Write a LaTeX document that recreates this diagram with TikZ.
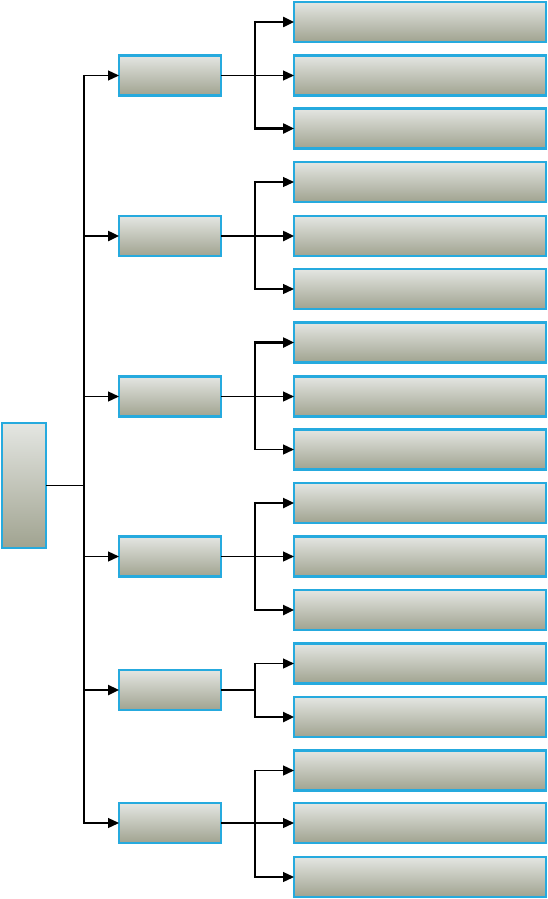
\documentclass[tikz,border=0pt]{standalone}
\usetikzlibrary{arrows.meta}
\definecolor{bord}{RGB}{38,170,222}
\definecolor{gtop}{RGB}{228,230,226}
\definecolor{gbot}{RGB}{160,163,144}
\begin{document}
\begin{tikzpicture}[x=1pt,y=-1pt,
  box/.style={draw=bord,line width=2.2pt,top color=gtop,bottom color=gbot,inner sep=0pt,outer sep=0pt},
  leafbox/.style={box,minimum width=252pt,minimum height=40pt},
  midbox/.style={box,minimum width=102pt,minimum height=40pt},
  thinln/.style={line width=1.3pt},
  thickln/.style={line width=2.4pt},
  vline/.style={line width=2.4pt},
  arr/.style={-{Triangle[length=11pt,width=10pt]}},
]
\useasboundingbox (0,0) rectangle (548,899);
% root
\node[box,minimum width=44pt,minimum height=125pt] (root) at (24,485.5) {};
% mids
\foreach \n/\y in {1/75.5,2/236,3/396.5,4/556.5,5/690,6/823}
  \node[midbox] (m\n) at (170,\y) {};
% leaves
\foreach \n/\y in {1/22,2/75.5,3/128.5,4/182,5/236,6/289,7/342.5,8/396.5,9/449.5,10/503,11/556.5,12/610,13/663.5,14/717,15/770.5,16/823,17/877}
  \node[leafbox] (l\n) at (420,\y) {};
% trunk
\coordinate (tj) at (84,485.5);
\coordinate (tt) at (84,75.5);
\coordinate (tb) at (84,823);
\draw[thinln] (root.east) -- (tj);
\draw[thinln] ([yshift=0.65pt]tt) -- ([yshift=-0.65pt]tb);
\draw[thinln,arr] ([xshift=-0.65pt]tt) -- (m1.west);
\draw[thickln,arr] (m2.west -| tj) -- (m2.west);
\draw[thinln,arr] (m3.west -| tj) -- (m3.west);
\draw[thinln,arr] (m4.west -| tj) -- (m4.west);
\draw[thickln,arr] (m5.west -| tj) -- (m5.west);
\draw[thinln,arr] ([xshift=-0.65pt]tb) -- (m6.west);
% branch coordinates (mid) and corner start points
\foreach \n in {1,...,6} \coordinate (b\n) at (255,0 |- m\n.east);
\foreach \n in {1,3,4,6,7,9,10,12,13,14,15,17} \coordinate (c\n) at (253.8,0 |- l\n.west);
% group 1
\draw[thinln] (m1.east) -- (b1);
\draw[vline] ([xshift=1.2pt,yshift=1.2pt]c1) -- ([xshift=1.2pt,yshift=-1.2pt]c3);
\draw[thickln,arr] (c1) -- (l1.west);
\draw[thinln,arr] (b1) -- (l2.west);
\draw[thickln,arr] (c3) -- (l3.west);
% group 2
\draw[thickln] (m2.east) -- (b2);
\draw[vline] ([xshift=1.2pt,yshift=0.65pt]c4) -- ([xshift=1.2pt,yshift=-0.65pt]c6);
\draw[thinln,arr] (c4) -- (l4.west);
\draw[thickln,arr] (b2) -- (l5.west);
\draw[thinln,arr] (c6) -- (l6.west);
% group 3
\draw[thinln] (m3.east) -- (b3);
\draw[vline] ([xshift=1.2pt,yshift=1.2pt]c7) -- ([xshift=1.2pt,yshift=-0.65pt]c9);
\draw[thickln,arr] (c7) -- (l7.west);
\draw[thinln,arr] (b3) -- (l8.west);
\draw[thinln,arr] (c9) -- (l9.west);
% group 4
\draw[thinln] (m4.east) -- (b4);
\draw[vline] ([xshift=1.2pt,yshift=1.2pt]c10) -- ([xshift=1.2pt,yshift=-1.2pt]c12);
\draw[thickln,arr] (c10) -- (l10.west);
\draw[thinln,arr] (b4) -- (l11.west);
\draw[thickln,arr] (c12) -- (l12.west);
% group 5
\draw[thickln] (m5.east) -- (b5);
\draw[vline] ([xshift=1.2pt,yshift=0.65pt]c13) -- ([xshift=1.2pt,yshift=-1.2pt]c14);
\draw[thinln,arr] (c13) -- (l13.west);
\draw[thickln,arr] (c14) -- (l14.west);
% group 6
\draw[thinln] (m6.east) -- (b6);
\draw[vline] ([xshift=1.2pt,yshift=0.65pt]c15) -- ([xshift=1.2pt,yshift=-0.65pt]c17);
\draw[thinln,arr] (c15) -- (l15.west);
\draw[thinln,arr] (b6) -- (l16.west);
\draw[thinln,arr] (c17) -- (l17.west);
\end{tikzpicture}
\end{document}
